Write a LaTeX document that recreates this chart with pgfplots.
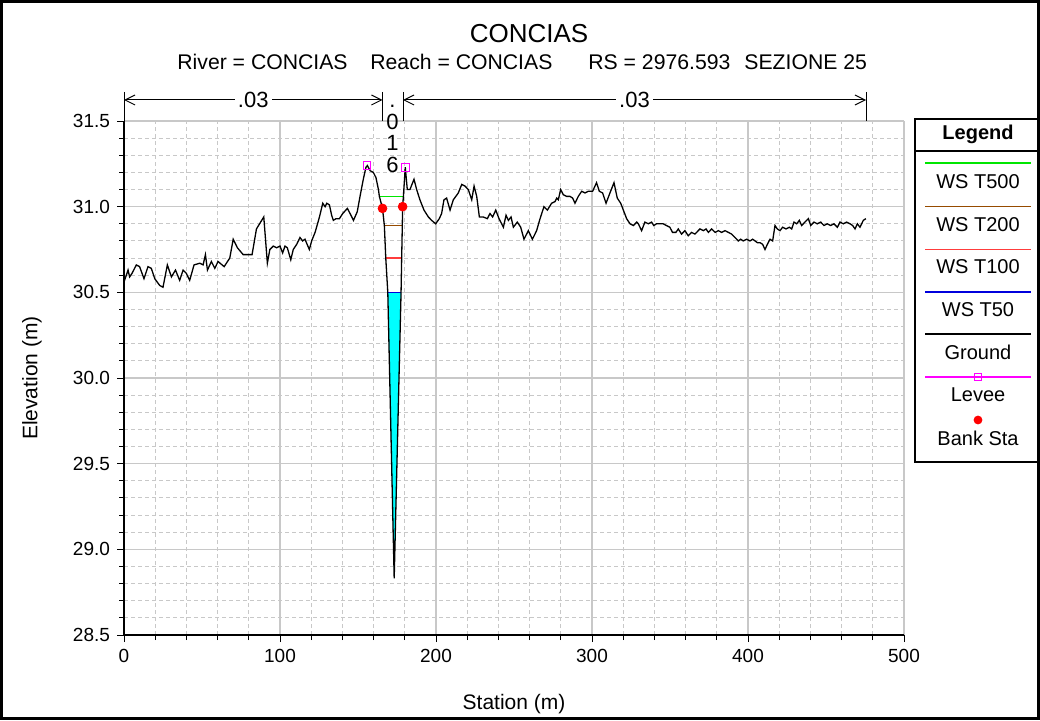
\documentclass[border=0pt]{standalone}
\usepackage{fontspec}
\setmainfont{Liberation Sans}
\usepackage{pgfplots}
\pgfplotsset{compat=1.18}
\usetikzlibrary{arrows.meta}

\definecolor{wsgreen}{RGB}{0,230,0}
\definecolor{wsbrown}{RGB}{150,75,0}
\definecolor{wsred}{RGB}{255,60,60}
\definecolor{wsblue}{RGB}{0,0,220}
\definecolor{water}{RGB}{0,255,255}
\definecolor{levee}{RGB}{255,0,255}
\definecolor{bank}{RGB}{255,0,0}
\definecolor{gridgray}{RGB}{200,200,200}

\begin{document}
\begin{tikzpicture}

\begin{axis}[
  at={(62pt,42.5pt)}, anchor=south west,
  scale only axis, width=390pt, height=257pt,
  xmin=0, xmax=500, ymin=28.5, ymax=31.5,
  xtick={0,100,...,500}, ytick={28.5,29,...,31.5},
  minor x tick num=4, minor y tick num=4,
  grid=both,
  major grid style={gridgray, line width=0.6pt},
  minor grid style={gridgray, dash pattern=on 2pt off 1.5pt, line width=0.5pt},
  axis x line*=bottom, axis y line*=left,
  axis line style={black, line width=0.6pt},
  tick align=outside, major tick length=3.5pt, minor tick length=2.5pt,
  tick style={black, line width=0.5pt},
  /pgf/number format/assume math mode=true,
  yticklabel style={/pgf/number format/.cd, fixed, fixed zerofill, precision=1},
  ticklabel style={font=\fontsize{9.5}{11}\selectfont},
  xlabel={Station (m)}, ylabel={Elevation (m)},
  label style={font=\fontsize{10.5}{12}\selectfont},
  xlabel style={at={(axis description cs:0.5,-0.134)}, anchor=center},
  ylabel style={at={(axis description cs:-0.118,0.5)}, anchor=center},
]
% water below WS T50
\addplot[fill=water, draw=none] coordinates {(169.1,30.50) (173.2,28.83) (177.6,30.50)} -- cycle;
% water surfaces
\addplot[wsgreen, line width=0.8pt] coordinates {(163.7,31.06) (179.1,31.06)};
\addplot[wsbrown, line width=0.8pt] coordinates {(166.9,30.89) (178.4,30.89)};
\addplot[wsred, line width=0.8pt] coordinates {(167.8,30.70) (178.0,30.70)};
\addplot[wsblue, line width=0.8pt] coordinates {(169.1,30.50) (177.6,30.50)};
% ground
\addplot[black, line width=0.65pt] coordinates {
(0,30.56) (1.5,30.60) (2.6,30.63) (3.6,30.59) (5.1,30.61) (7.9,30.66) (10,30.65)
(12.8,30.58) (15.4,30.65) (17.5,30.64) (19.7,30.58) (22.9,30.54) (25,30.53)
(27.8,30.66) (30.4,30.59) (33,30.63) (35.7,30.57) (37.9,30.63) (40,30.61)
(42.1,30.57) (44.9,30.66) (48.6,30.67) (50.7,30.66) (52.2,30.72) (53.5,30.63)
(56,30.68) (58.2,30.64) (60.3,30.68) (64.2,30.65) (67.8,30.70) (70,30.81)
(72.7,30.76) (76.4,30.72) (79.6,30.72) (82.1,30.72) (84.9,30.87) (89.6,30.94)
(91.9,30.67) (93.5,30.75) (95.7,30.77) (97.8,30.76) (100,30.77) (101.7,30.73)
(103.2,30.77) (104.7,30.76) (106.9,30.69) (108.5,30.75) (110.7,30.78) (112.8,30.82)
(114.5,30.80) (116,30.81) (118.8,30.75) (120.3,30.80) (122.5,30.85) (125.3,30.94)
(127.4,31.02) (128.9,31.00) (130,31.02) (131.7,31.01) (133.1,30.95) (134.2,30.92)
(135.9,30.93) (138.1,30.93) (140.2,30.96) (143.2,30.99) (144.9,30.96) (147.1,30.92)
(149.5,30.97) (151.3,31.06) (153.4,31.16) (155.1,31.23) (156,31.24) (157.8,31.21)
(159.8,31.20) (161.5,31.17) (163.1,31.10)
(163.7,31.06) (165.7,30.99) (166.9,30.89) (167.8,30.70) (169.1,30.50) (173.2,28.83)
(177.6,30.50) (178.0,30.70) (178.4,30.89) (178.6,31.00) (179.1,31.06) (180.3,31.23)
(181.6,31.10) (183.3,31.10) (185.9,31.16) (187.6,31.10) (189.7,31.04) (192.3,30.98)
(195.1,30.94) (197.2,30.92) (199.8,30.90) (202.1,30.93) (203.6,30.96) (205.1,31.04)
(206.8,31.05) (209,30.98) (211.1,31.04) (214.3,31.08) (216.5,31.13) (218.6,31.12)
(220.7,31.10) (222.9,31.04) (224.4,31.12) (226.1,31.06) (227.8,30.94) (230.3,30.94)
(232.9,30.93) (234.6,30.96) (236.3,30.94) (238.3,30.98) (240.4,30.93) (243.2,30.88)
(244.9,30.95) (246.4,30.92) (248.1,30.94) (249.6,30.88) (252.1,30.91) (254.3,30.88)
(256.4,30.81) (259.2,30.86) (261.8,30.81) (264.5,30.86) (266.7,30.93) (269.2,31.00)
(271.4,30.98) (274.1,31.02) (276.3,31.03) (277.4,31.05) (278.4,31.04) (279.9,31.10)
(281.6,31.07) (283.8,31.06) (285.9,31.06) (287.6,31.05) (289.1,31.02) (291.2,31.06)
(293.4,31.09) (295.5,31.08) (297.6,31.09) (300.4,31.09) (302.9,31.14) (304.7,31.09)
(306.8,31.08) (309,31.02) (311.5,31.08) (314.1,31.14) (316.2,31.05) (318.4,31.02)
(320.1,30.98) (322.2,30.93) (324.4,30.90) (326.5,30.89) (328.7,30.91) (329.7,30.90)
(331.8,30.86) (333.9,30.91) (336.1,30.90) (338.2,30.91) (339.6,30.89) (341.3,30.90)
(343.5,30.90) (345.6,30.90) (347.7,30.89) (349.9,30.88) (351.6,30.85) (353.8,30.85)
(355.3,30.87) (357.4,30.84) (359.6,30.86) (361.7,30.83) (363.8,30.85) (366,30.84)
(368.1,30.86) (369.2,30.87) (371.4,30.86) (373.1,30.87) (374.6,30.85) (376.7,30.87)
(378.9,30.85) (381,30.86) (383.1,30.85) (385.3,30.86) (387.4,30.85) (389.5,30.84)
(391.7,30.82) (393.8,30.80) (395.3,30.81) (397,30.80) (399.1,30.81) (401.3,30.80)
(403,30.81) (404.5,30.80) (406,30.79) (407.7,30.79) (409.4,30.78) (410.9,30.75)
(412.4,30.78) (414.1,30.81) (415.8,30.80) (417.3,30.89) (418.8,30.87) (420.5,30.86)
(422.2,30.88) (424.4,30.87) (426.5,30.88) (428,30.87) (429.5,30.91) (431.2,30.90)
(432.9,30.92) (434.4,30.89) (436.5,30.91) (438.7,30.93) (440.2,30.89) (442.3,30.91)
(444.4,30.90) (446.6,30.91) (448.7,30.89) (450.8,30.90) (453,30.89) (455.1,30.90)
(457.3,30.88) (459,30.91) (461.1,30.90) (463.2,30.91) (465.4,30.90) (467.1,30.89)
(468.6,30.87) (470.1,30.90) (471.8,30.88) (473.9,30.92) (475.6,30.93)
};
% levees
\addplot[only marks, mark=square, mark size=1.9pt, levee, mark options={line width=0.5pt}]
  coordinates {(155.8,31.24) (180.3,31.23)};
% bank stations
\addplot[only marks, mark=*, mark size=2.2pt, bank] coordinates {(165.7,30.99) (178.6,31.00)};
\end{axis}

% everything else in reference pixels, y down from the top
\begin{scope}[x=0.5pt, y=-0.5pt, yshift=360pt]
\draw[line width=1.5pt] (1.5,1.5) rectangle (1038.5,718.5);

% titles
\node[font=\fontsize{13}{15}\selectfont] at (529,34) {CONCIAS};
\begin{scope}[every node/.style={font=\fontsize{10.6}{12}\selectfont, anchor=west, inner sep=0pt}]
\node at (177,62) {River = CONCIAS};
\node at (370,62) {Reach = CONCIAS};
\node at (588,62) {RS = 2976.593};
\node at (744,62) {SEZIONE 25};
\end{scope}

% Manning's n bands
\draw[line width=0.5pt] (124,92) -- (124,121) (382.5,92) -- (382.5,121)
  (403,92) -- (403,121) (866,92) -- (866,121);
\draw[line width=0.5pt, {Straight Barb[length=5pt,width=5pt]}-{Straight Barb[length=5pt,width=5pt]}]
  (124,100) -- node[fill=white, inner sep=1.5pt, font=\fontsize{11}{12}\selectfont] {.03} (382.5,100);
\draw[line width=0.5pt, {Straight Barb[length=5pt,width=5pt]}-{Straight Barb[length=5pt,width=5pt]}]
  (403,100) -- node[fill=white, inner sep=1.5pt, font=\fontsize{11}{12}\selectfont] {.03} (866,100);
\begin{scope}[every node/.style={font=\fontsize{11}{12}\selectfont, anchor=base, inner sep=0pt}]
\node at (392.5,108) {.};
\node at (392.5,129.5) {0};
\node at (392.5,151) {1};
\node at (392.5,172.5) {6};
\end{scope}

% legend
\draw[line width=0.6pt] (1038,119) -- (915,119) -- (915,462) -- (1038,462);
\draw[line width=0.6pt] (915,151) -- (1038,151);
\node[font=\bfseries\fontsize{10}{12}\selectfont] at (978,134) {Legend};
\begin{scope}[every node/.style={font=\fontsize{10}{12}\selectfont}]
\draw[wsgreen, line width=0.7pt] (925,163) -- (1031,163);
\node at (978,182) {WS T500};
\draw[wsbrown, line width=0.7pt] (925,206.5) -- (1031,206.5);
\node at (978,225) {WS T200};
\draw[wsred, line width=0.7pt] (925,249.5) -- (1031,249.5);
\node at (978,267) {WS T100};
\draw[wsblue, line width=0.7pt] (925,292) -- (1031,292);
\node at (978,310) {WS T50};
\draw[black, line width=0.7pt] (925,334) -- (1031,334);
\node at (978,352) {Ground};
\draw[levee, line width=0.7pt] (925,377) -- (1031,377);
\draw[levee, line width=0.5pt] (974.5,373.5) rectangle (981.5,380.5);
\node at (978,395) {Levee};
\fill[bank] (978,420) circle (2.2pt);
\node at (978,438) {Bank Sta};
\end{scope}
\end{scope}
\end{tikzpicture}
\end{document}
